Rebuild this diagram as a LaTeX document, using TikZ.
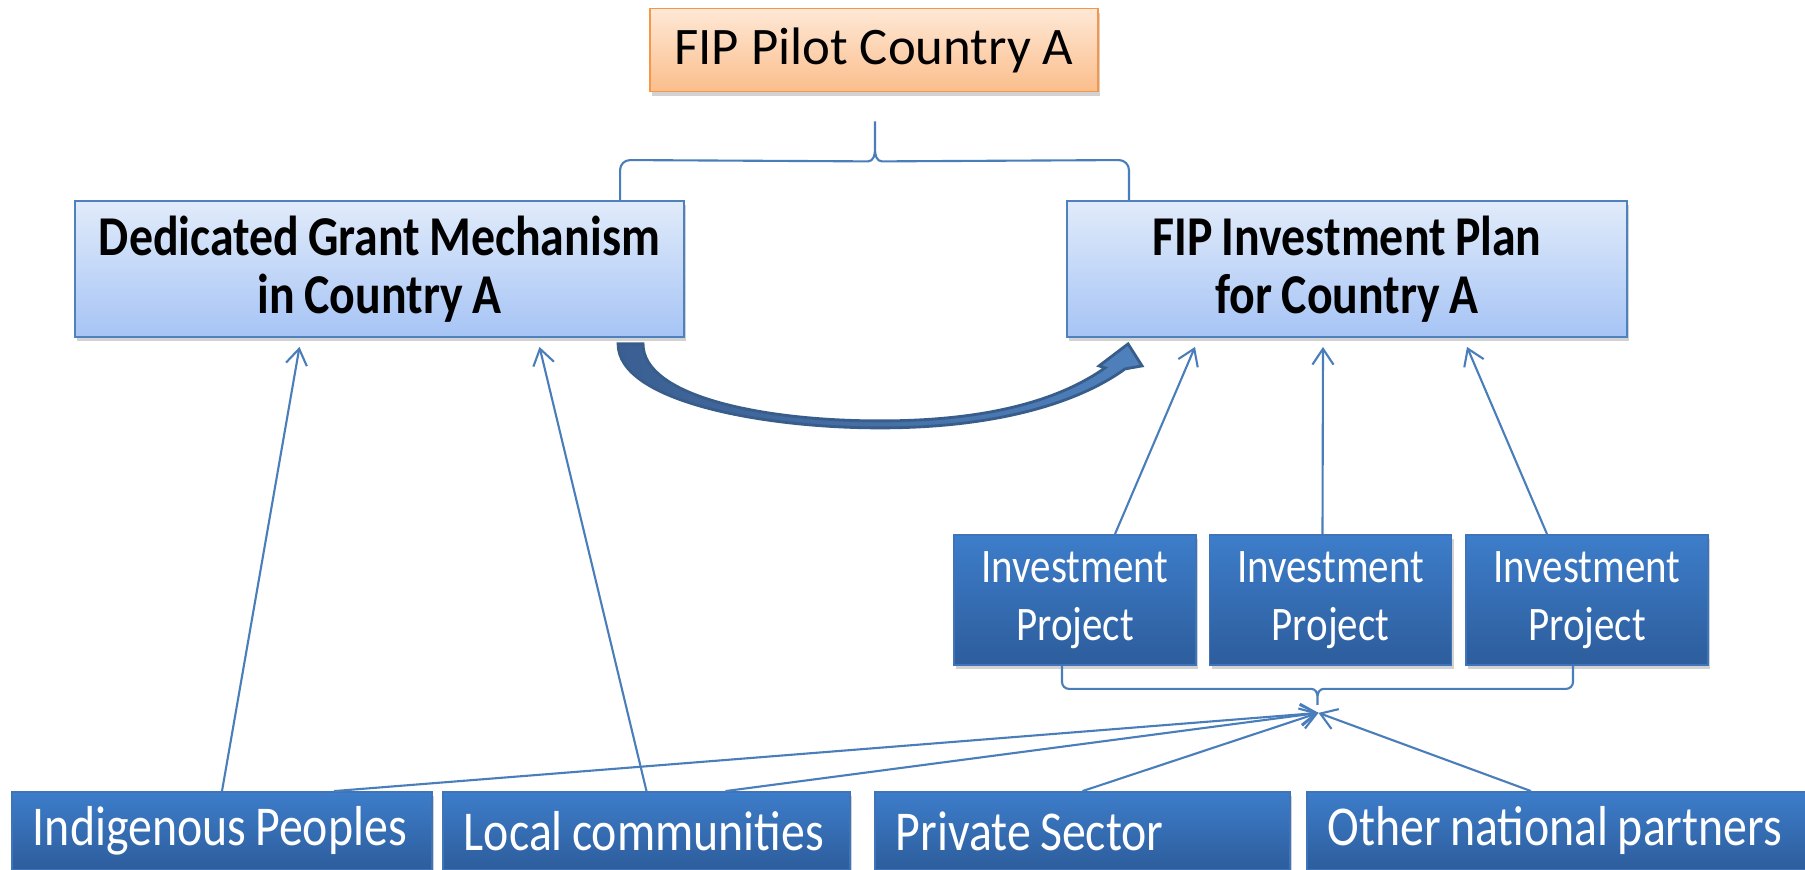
\documentclass[tikz,border=0pt]{standalone}
\usepackage{fontspec}
\setmainfont{Carlito}
\newfontfamily\slimfont{Carlito}[FakeStretch=0.85,WordSpace=0.85]
\usetikzlibrary{arrows.meta,calc,shadows}
\definecolor{linkblue}{HTML}{4A7EBB}
\definecolor{paletop}{HTML}{E1EBFA}
\definecolor{palebot}{HTML}{A6C4F5}
\definecolor{paleedge}{HTML}{4F81BD}
\definecolor{darktop}{HTML}{3D7DCA}
\definecolor{darkbot}{HTML}{2D5D9C}
\definecolor{darkedge}{HTML}{3F75B8}
\definecolor{peachtop}{HTML}{FEE8D6}
\definecolor{peachbot}{HTML}{FBBE8C}
\definecolor{peachedge}{HTML}{F79646}
\definecolor{bendedge}{HTML}{385D8A}
\definecolor{benddark}{HTML}{3B5F92}
\definecolor{bendlight}{HTML}{4F81BD}

\begin{document}
\begin{tikzpicture}[x=0.01cm,y=0.01cm,
  box/.style={rectangle,line width=0.5pt,drop shadow={opacity=0.35,shadow xshift=0.6pt,shadow yshift=-1.2pt}},
  pilot/.style={box,draw=peachedge,top color=peachtop,bottom color=peachbot,minimum width=4.47cm,minimum height=0.83cm,font=\fontsize{15}{18}\selectfont},
  plan/.style={box,draw=paleedge,top color=paletop,bottom color=palebot,minimum height=1.36cm,align=center,font=\slimfont\bfseries\fontsize{16}{16.4}\selectfont},
  project/.style={box,draw=darkedge,top color=darktop,bottom color=darkbot,text=white,minimum width=2.42cm,minimum height=1.3cm,align=center,font=\slimfont\fontsize{13.7}{16.4}\selectfont},
  actor/.style={box,draw=darkedge,top color=darktop,bottom color=darkbot,text=white,minimum height=0.78cm,inner xsep=0.21cm,align=flush left,font=\slimfont\fontsize{16}{19}\selectfont},
  link/.style={linkblue,line width=0.6pt},
  feed/.style={link,-{Straight Barb[length=4.5pt,width=6pt]}}]
 \path[use as bounding box,fill=white] (0,0) rectangle (1805,870);

 \node[pilot] (pilot) at (874,820) {FIP Pilot Country A};
 \node[plan,minimum width=6.09cm] (grant) at (379.5,601) {Dedicated Grant Mechanism\\ in Country A};
 \node[plan,minimum width=5.6cm] (invplan) at (1347,601) {FIP Investment Plan\\ for Country A};
 \foreach \x/\n in {1075/1,1330.5/2,1587/3} \node[project] (proj\n) at (\x,270) {Investment\\ Project};

 \node[actor,text width=3.78cm] (indig) at (222,39) {Indigenous Peoples};
 \node[actor,text width=3.65cm] (local) at (646.5,39) {Local communities};
 \node[actor,text width=3.73cm] (priv) at (1082.5,39) {Private Sector};
 \node[actor,text width=4.80cm] (other) at (1568,39) {Other national partners};

 % brace from the pilot country to both of its tracks
 \coordinate (tl) at ($(grant.north east)+(-65,0)$);
 \coordinate (tr) at ($(invplan.north west)+(63,0)$);
 \coordinate (tt) at ($(pilot.south)+(1,-29)$);
 \draw[link] (tl) -- ++(0,30) to[out=90,in=180] ++(10,10) -- ($(tt)+(-7,-40)$) to[out=0,in=-90] ($(tt)+(0,-28)$) -- (tt)
   -- ($(tt)+(0,-28)$) to[out=-90,in=180] ($(tt)+(7,-40)$) -- ($(tr)+(-10,40)$) to[out=0,in=90] ++(10,-10) -- (tr);

 % grant mechanism feeds the investment plan
 \coordinate (bend) at ($(grant.south east)+(-67,-6)$);
 \draw[bendedge,line width=0.8pt,left color=benddark,right color=bendlight,shift={(bend)}]
   (0,0) .. controls (0,-57) and (143,-84) .. (262,-84) .. controls (383,-84) and (463,-57) .. (507,-25)
   -- (524,-22) -- (510,0) -- (481,-22) -- (487,-24)
   .. controls (443,-55) and (373,-77) .. (262,-77) .. controls (143,-77) and (25,-52) .. (25,0) -- cycle;

 \draw[feed] (indig.north) -- ($(grant.south)+(-80,-9)$);
 \draw[feed] (local.north) -- ($(grant.south)+(160,-9)$);
 \draw[feed] ($(proj1.north)+(40,0)$) -- ($(invplan.south)+(-152,-9)$);
 \draw[feed] ($(proj2.north)+(-8,0)$) -- ($(invplan.south)+(-24,-9)$);
 \draw[feed] ($(proj3.north)+(-40,0)$) -- ($(invplan.south)+(120,-9)$);

 % partners all point at the project brace
 \coordinate (hub) at ($(proj2.south)+(-12,-47)$);
 \foreach \s/\dx in {indig/112,local/79,priv/0,other/-37} \draw[feed] ($(\s.north)+(\dx,0)$) -- (hub);

 \coordinate (bl) at ($(proj1.south)+(-13,0)$);
 \coordinate (br) at ($(proj3.south)+(-14,0)$);
 \coordinate (bt) at ($(hub)+(-1,8)$);
 \draw[link] (bl) -- ++(0,-16) to[out=-90,in=180] ++(7,-7) -- ($(bt)+(-6,16)$) to[out=0,in=90] ($(bt)+(0,8)$) -- (bt)
   -- ($(bt)+(0,8)$) to[out=90,in=180] ($(bt)+(6,16)$) -- ($(br)+(-7,-23)$) to[out=0,in=-90] ++(7,7) -- (br);
\end{tikzpicture}
\end{document}
